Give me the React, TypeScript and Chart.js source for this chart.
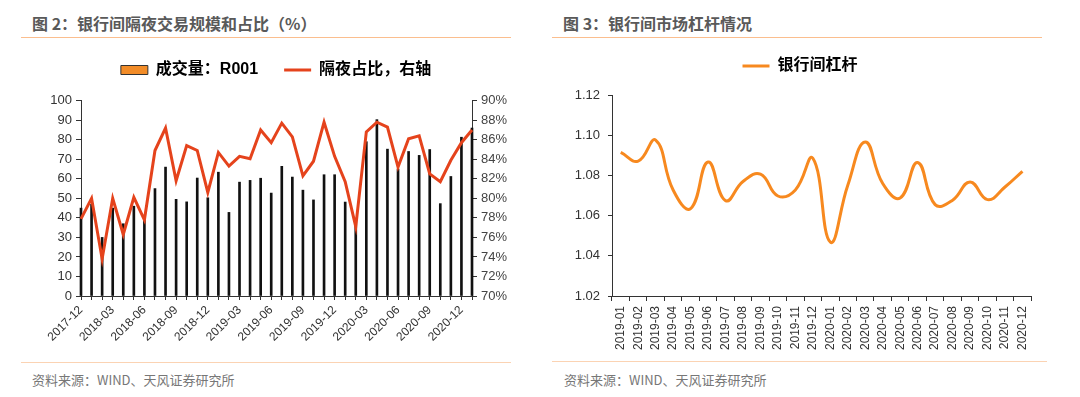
import React, { useEffect, useRef } from "react";
import { Chart, registerables } from "chart.js";

Chart.register(...registerables);

// ---------- Data: chart 1 (图 2) ----------
const months1 = [
  "2017-12", "2018-01", "2018-02", "2018-03", "2018-04", "2018-05", "2018-06", "2018-07",
  "2018-08", "2018-09", "2018-10", "2018-11", "2018-12", "2019-01", "2019-02", "2019-03",
  "2019-04", "2019-05", "2019-06", "2019-07", "2019-08", "2019-09", "2019-10", "2019-11",
  "2019-12", "2020-01", "2020-02", "2020-03", "2020-04", "2020-05", "2020-06", "2020-07",
  "2020-08", "2020-09", "2020-10", "2020-11", "2020-12", "2021-01",
];
const xTickLabels1 = [
  "2017-12", "2018-03", "2018-06", "2018-09", "2018-12", "2019-03", "2019-06",
  "2019-09", "2019-12", "2020-03", "2020-06", "2020-09", "2020-12",
];
const volumeR001 = [
  45, 47, 30, 45, 37, 46, 39, 55, 66, 49.5, 48.2, 60.4, 50.3, 63.4, 42.8, 58.3,
  59.2, 60.3, 52.7, 66.4, 60.9, 54.2, 49.2, 62.1, 62.1, 48.1, 39, 79, 90.3, 75.2,
  65, 74, 72, 75, 47.3, 61.2, 81.3, 86,
];
const overnightShare = [
  77.9, 80.0, 73.8, 80.0, 76.3, 80.1, 77.8, 84.9, 87.2, 81.8, 85.4, 84.9, 80.6, 84.7,
  83.3, 84.3, 84.05, 87.0, 85.7, 87.7, 86.3, 82.3, 83.8, 87.8, 84.3, 81.7, 77.1, 86.8,
  87.8, 87.3, 83.2, 86.1, 86.4, 82.5, 81.7, 83.9, 85.7, 87.0,
];

// ---------- Data: chart 2 (图 3) ----------
const months2 = [
  "2019-01", "2019-02", "2019-03", "2019-04", "2019-05", "2019-06", "2019-07", "2019-08",
  "2019-09", "2019-10", "2019-11", "2019-12", "2020-01", "2020-02", "2020-03", "2020-04",
  "2020-05", "2020-06", "2020-07", "2020-08", "2020-09", "2020-10", "2020-11", "2020-12",
];
const leverage = [
  1.0915, 1.0872, 1.0976, 1.0728, 1.0635, 1.0867, 1.0675, 1.077, 1.0807, 1.0698, 1.0728,
  1.0886, 1.0468, 1.0752, 1.0967, 1.076, 1.0688, 1.0865, 1.0655, 1.0677, 1.0768, 1.068,
  1.0743, 1.0821,
];

const FONT = "'Liberation Sans', Arial, 'Noto Sans CJK SC', sans-serif";
const CJK = "'Noto Sans CJK SC', 'Liberation Sans', sans-serif";
const AXIS = "#333333";
const RED = "#E5431C";
const BAR_ORANGE = "#F28C28";
const LINE_ORANGE = "#F7891F";
const TEXT = "#333333";

// blank spacer box placed between the legend and the plot area
const spacer = (gap: number) => ({
  display: true,
  text: " ",
  position: "top",
  weight: 500,
  font: { size: 1 },
  padding: { top: 0, bottom: gap },
});

function ChartOne() {
  const ref = useRef<HTMLCanvasElement>(null);
  useEffect(() => {
    const chart = new Chart(ref.current!, {
      type: "bar",
      data: {
        labels: months1,
        datasets: [
          {
            type: "bar",
            label: "成交量：R001",
            data: volumeR001,
            backgroundColor: "#111111",
            barThickness: 2,
            yAxisID: "y",
            order: 2,
            clip: false,
          } as any,
          {
            type: "line",
            label: "隔夜占比，右轴",
            data: overnightShare,
            borderColor: RED,
            borderWidth: 3,
            pointRadius: 0,
            tension: 0,
            yAxisID: "y1",
            order: 1,
          } as any,
        ],
      },
      options: {
        responsive: false,
        animation: false,
        layout: { padding: { top: 11, left: 20, right: 0, bottom: 0 } },
        font: { family: FONT },
        plugins: {
          tooltip: { enabled: false },
          title: spacer(11.5),
          legend: {
            position: "top",
            labels: {
              usePointStyle: true,
              pointStyleWidth: 27,
              boxHeight: 9,
              padding: 26,
              color: "#111",
              font: { family: FONT, size: 16, weight: "bold" },
              generateLabels: () => [
                {
                  text: "成交量：R001",
                  fillStyle: BAR_ORANGE,
                  strokeStyle: "#333",
                  lineWidth: 1,
                  pointStyle: "rect",
                  datasetIndex: 0,
                  hidden: false,
                } as any,
                {
                  text: "隔夜占比，右轴",
                  fillStyle: RED,
                  strokeStyle: RED,
                  lineWidth: 3,
                  pointStyle: "line",
                  datasetIndex: 1,
                  hidden: false,
                } as any,
              ],
            },
          },
        },
        scales: {
          x: {
            offset: false,
            grid: { drawOnChartArea: false, drawTicks: true, tickLength: 4, tickColor: AXIS, offset: false },
            border: { color: AXIS, width: 1 },
            ticks: {
              autoSkip: false,
              minRotation: 45,
              maxRotation: 45,
              padding: 3,
              color: TEXT,
              font: { family: FONT, size: 12 },
              callback: (_v: any, i: number) => (xTickLabels1.includes(months1[i]) ? months1[i] : ""),
            },
            afterFit: (s: any) => {
              s.height = 59;
            },
          },
          y: {
            position: "left",
            min: 0,
            max: 100,
            grid: { drawOnChartArea: false, tickLength: 5, tickColor: AXIS },
            border: { color: AXIS, width: 1 },
            ticks: { stepSize: 10, padding: 4, color: TEXT, font: { family: FONT, size: 13 } },
            afterFit: (s: any) => {
              s.width = 40;
            },
          },
          y1: {
            position: "right",
            min: 70,
            max: 90,
            grid: { drawOnChartArea: false, tickLength: 5, tickColor: AXIS },
            border: { color: AXIS, width: 1 },
            ticks: {
              stepSize: 2,
              padding: 4,
              color: "#444",
              font: { family: FONT, size: 13 },
              callback: (v: any) => `${v}%`,
            },
            afterFit: (s: any) => {
              s.width = 39;
            },
          },
        },
      } as any,
    });
    return () => chart.destroy();
  }, []);
  return (
    <canvas
      ref={ref}
      width={490}
      height={330}
      style={{ position: "absolute", left: 21, top: 25, width: 490, height: 330 }}
    />
  );
}

function ChartTwo() {
  const ref = useRef<HTMLCanvasElement>(null);
  useEffect(() => {
    const chart = new Chart(ref.current!, {
      type: "line",
      data: {
        labels: months2,
        datasets: [
          {
            label: "银行间杠杆",
            data: leverage,
            borderColor: LINE_ORANGE,
            borderWidth: 3,
            pointRadius: 0,
            tension: 0.45,
          },
        ],
      },
      options: {
        responsive: false,
        animation: false,
        layout: { padding: { top: 7, left: 13, right: 7, bottom: 0 } },
        plugins: {
          tooltip: { enabled: false },
          title: spacer(10),
          legend: {
            position: "top",
            labels: {
              usePointStyle: true,
              pointStyleWidth: 27,
              boxHeight: 9,
              padding: 26,
              color: "#111",
              font: { family: FONT, size: 16, weight: "bold" },
              generateLabels: () => [
                {
                  text: "银行间杠杆",
                  fillStyle: LINE_ORANGE,
                  strokeStyle: LINE_ORANGE,
                  lineWidth: 3,
                  pointStyle: "line",
                  datasetIndex: 0,
                  hidden: false,
                } as any,
              ],
            },
          },
        },
        scales: {
          x: {
            offset: true,
            grid: { drawOnChartArea: false, drawTicks: true, tickLength: 5, tickColor: AXIS, offset: true },
            border: { color: AXIS, width: 1 },
            ticks: {
              autoSkip: false,
              minRotation: 90,
              maxRotation: 90,
              padding: 5,
              color: TEXT,
              font: { family: FONT, size: 12 },
            },
            afterFit: (s: any) => {
              s.height = 64;
            },
          },
          y: {
            min: 1.02,
            max: 1.12,
            grid: { drawOnChartArea: false, tickLength: 4, tickColor: AXIS },
            border: { color: AXIS, width: 1 },
            ticks: {
              stepSize: 0.02,
              padding: 8,
              color: TEXT,
              font: { family: FONT, size: 13 },
              callback: (v: any) => Number(v).toFixed(2),
            },
            afterFit: (s: any) => {
              s.width = 47;
            },
          },
        },
      } as any,
    });
    return () => chart.destroy();
  }, []);
  return (
    <canvas
      ref={ref}
      width={490}
      height={335}
      style={{ position: "absolute", left: 552, top: 25, width: 490, height: 335 }}
    />
  );
}

const titleStyle: React.CSSProperties = {
  position: "absolute",
  top: 13,
  fontSize: 16,
  lineHeight: "20px",
  fontWeight: "bold",
  color: "#595959",
  fontFamily: CJK,
  whiteSpace: "nowrap",
};
const sourceStyle: React.CSSProperties = {
  position: "absolute",
  top: 371,
  fontSize: 13,
  lineHeight: "18px",
  color: "#777777",
  fontFamily: CJK,
  whiteSpace: "nowrap",
};
const ruleStyle = (left: number, top: number, width: number, color: string): React.CSSProperties => ({
  position: "absolute",
  left,
  top,
  width,
  height: 0,
  borderTop: `1.5px solid ${color}`,
});

export default function App() {
  return (
    <div
      style={{
        position: "absolute",
        left: 0,
        top: 0,
        width: 1080,
        height: 397,
        background: "#ffffff",
        overflow: "hidden",
      }}
    >
      <div style={{ ...titleStyle, left: 32 }}>图 2：银行间隔夜交易规模和占比（%）</div>
      <div style={ruleStyle(21, 37, 490, "#FBBE8E")} />
      <ChartOne />
      <div style={ruleStyle(21, 362, 490, "#FBD3B3")} />
      <div style={{ ...sourceStyle, left: 32 }}>资料来源：WIND、天风证券研究所</div>

      <div style={{ ...titleStyle, left: 563 }}>图 3：银行间市场杠杆情况</div>
      <div style={ruleStyle(552, 37, 490, "#FBBE8E")} />
      <ChartTwo />
      <div style={ruleStyle(552, 361, 495, "#FBD3B3")} />
      <div style={{ ...sourceStyle, left: 564 }}>资料来源：WIND、天风证券研究所</div>
    </div>
  );
}
